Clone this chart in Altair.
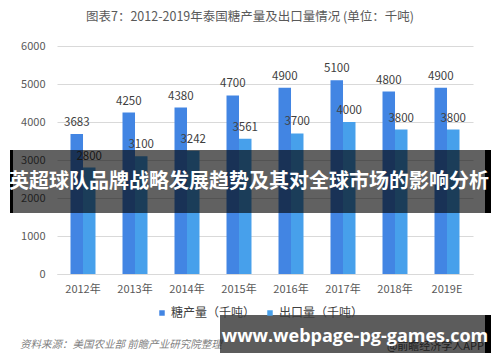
import altair as alt
import pandas as pd

years = ["2012年", "2013年", "2014年", "2015年", "2016年", "2017年", "2018年", "2019E"]
production = [3683, 4250, 4380, 4700, 4900, 5100, 4800, 4900]
export = [2800, 3100, 3242, 3561, 3700, 4000, 3800, 3800]
series = ["糖产量（千吨）", "出口量（千吨）"]
colors = ["#4285E3", "#47A0EB"]
y_ticks = [0, 1000, 2000, 3000, 4000, 5000, 6000]

title_text = "图表7：2012-2019年泰国糖产量及出口量情况 (单位：千吨)"
source_text = "资料来源：美国农业部 前瞻产业研究院整理"
credit_text = "@前瞻经济学人APP"
banner_text = "英超球队品牌战略发展趋势及其对全球市场的影响分析"
url_text = "www.webpage-pg-games.com"

rows = []
for y, p, e in zip(years, production, export):
    rows.append({"year": y, "series": series[0], "value": p})
    rows.append({"year": y, "series": series[1], "value": e})
df = pd.DataFrame(rows)

FONT = "Noto Sans CJK SC"

xaxis = alt.Axis(title=None, labelAngle=0, ticks=False, labelPadding=9,
                 labelFontSize=11, labelColor="#595959", domain=True,
                 domainColor="#d9d9d9", grid=False)
yaxis = alt.Axis(title=None, values=y_ticks, tickCount=7,
                 format="d", labelOverlap=False,
                 ticks=False, domain=False, labelPadding=12, labelFontSize=11,
                 labelColor="#595959", gridColor="#d9d9d9")
xscale = alt.Scale(paddingInner=0.52, paddingOuter=0.26)
yscale = alt.Scale(domain=[0, 6000], nice=False)
xoff = alt.XOffset("series:N", sort=series, scale=alt.Scale(domain=series, paddingInner=0, paddingOuter=0))

bars = alt.Chart(df).mark_bar(size=12.5).encode(
    x=alt.X("year:N", sort=years, scale=xscale, axis=xaxis),
    y=alt.Y("value:Q", scale=yscale, axis=yaxis),
    xOffset=xoff,
    color=alt.Color("series:N", scale=alt.Scale(domain=series, range=colors),
                    legend=alt.Legend(title=None, orient="none", direction="horizontal",
                                      legendX=99, legendY=261, symbolType="square",
                                      symbolSize=30, labelFontSize=12, labelColor="#404040",
                                      labelOffset=3, columnPadding=8, padding=0,
                                      symbolStrokeWidth=0)),
)

labels = alt.Chart(df).mark_text(dy=-11, fontSize=11.5, color="#404040", baseline="middle").encode(
    x=alt.X("year:N", sort=years, scale=xscale, axis=xaxis),
    y=alt.Y("value:Q", scale=yscale, axis=yaxis),
    xOffset=xoff,
    text=alt.Text("value:Q", format="d"),
)

def txt(t, **kw):
    return alt.Chart(pd.DataFrame({"t": [t]})).mark_text(**kw).encode(text="t:N")

title = txt(title_text, fontSize=12.5, color="#595959", align="center", baseline="middle").encode(
    x=alt.value(193), y=alt.value(-29))
source = txt(source_text, fontSize=10.5, color="#7f7f7f", fontStyle="italic", align="left",
             baseline="middle").encode(x=alt.value(-37), y=alt.value(299))
credit = txt(credit_text, fontSize=11, color="#595959", align="right",
             baseline="middle").encode(x=alt.value(427), y=alt.value(301))

one = pd.DataFrame({"t": [0]})
banner1 = alt.Chart(one).mark_rect(color="#000000", opacity=0.62).encode(
    x=alt.value(-47), x2=alt.value(434), y=alt.value(104), y2=alt.value(167))
edge1l = alt.Chart(one).mark_rect(color="#000000").encode(
    x=alt.value(-47), x2=alt.value(-44), y=alt.value(104), y2=alt.value(167))
edge1r = alt.Chart(one).mark_rect(color="#000000").encode(
    x=alt.value(428), x2=alt.value(434), y=alt.value(104), y2=alt.value(167))
banner1_text = txt(banner_text, fontSize=20, fontWeight="bold", color="#ffffff", align="center",
                   baseline="middle").encode(x=alt.value(192), y=alt.value(136))

banner2 = alt.Chart(one).mark_rect(color="#000000", opacity=0.64).encode(
    x=alt.value(163), x2=alt.value(434), y=alt.value(269), y2=alt.value(307))
edge2r = alt.Chart(one).mark_rect(color="#000000").encode(
    x=alt.value(428), x2=alt.value(434), y=alt.value(269), y2=alt.value(307))
banner2_text = txt(url_text, fontSize=18, fontWeight="bold", color="#ffffff", align="center",
                   baseline="middle", font="Open Sans").encode(x=alt.value(298), y=alt.value(291))

chart = alt.layer(
    bars, labels, title, source, credit,
    banner1, edge1l, edge1r, banner1_text,
    banner2, edge2r, banner2_text,
).properties(
    width=416, height=228,
    padding={"left": 49, "top": 38, "right": 19, "bottom": 80},
    autosize=alt.AutoSizeParams(type="none"),
    background="#ffffff",
).configure(font=FONT).configure_view(stroke=None)

chart.save("out.html", embed_options={"renderer": "svg", "actions": False})
